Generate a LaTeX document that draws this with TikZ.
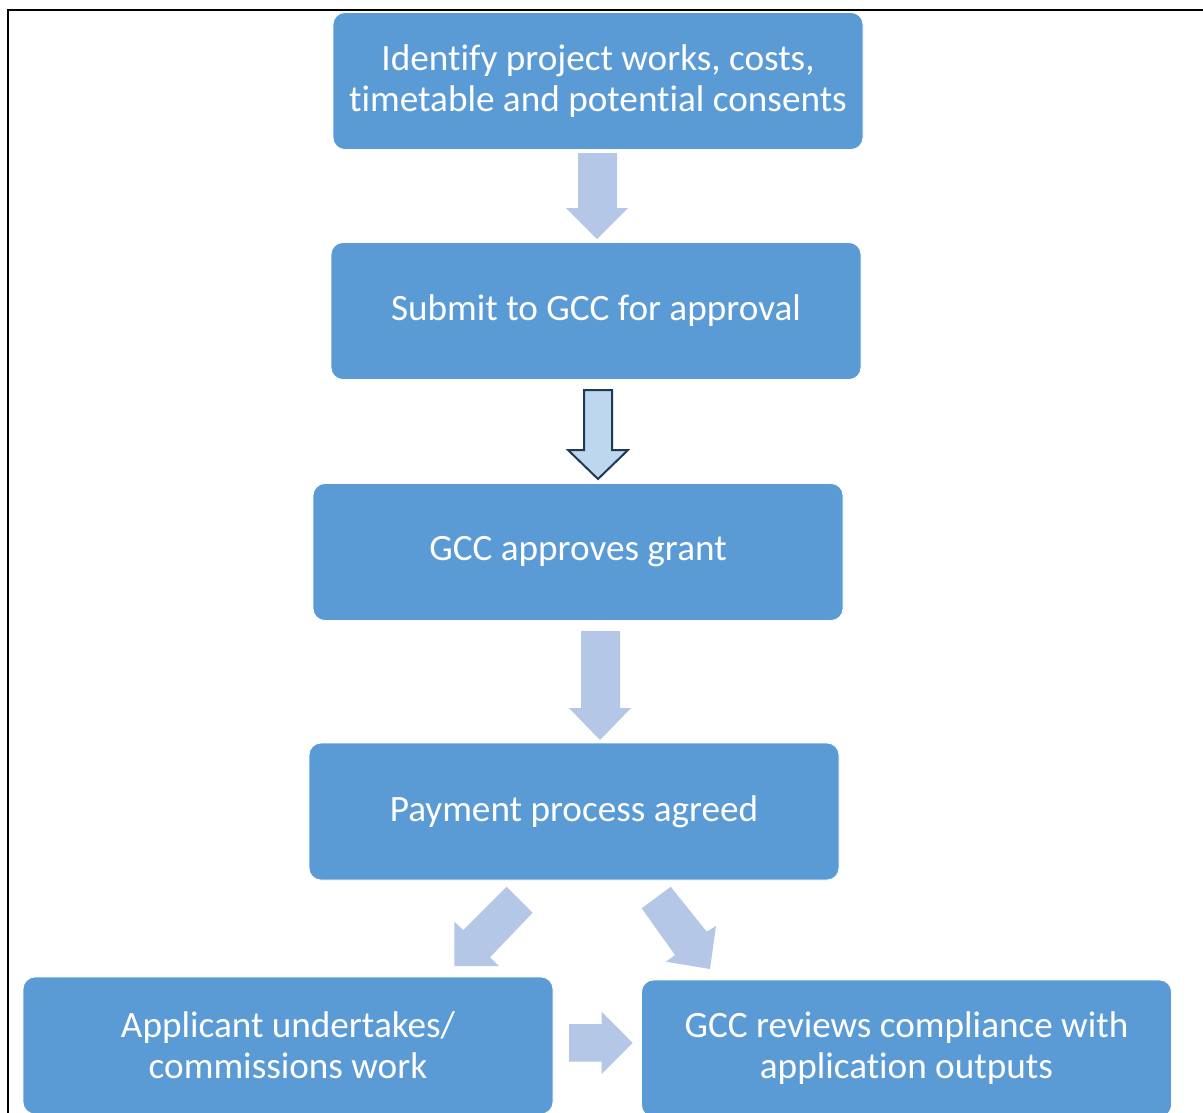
\documentclass[tikz,border=0pt]{standalone}
\usepackage{fontspec}
\setmainfont{Carlito}[Ligatures={NoCommon}]
\definecolor{boxblue}{HTML}{5B9BD5}
\definecolor{arrowlight}{HTML}{B4C7E7}
\definecolor{arrowfill}{HTML}{BDD7EE}
\definecolor{arrowline}{HTML}{203A55}
\begin{document}
\begin{tikzpicture}[x=1pt,y=-1pt,
  stepbox/.style={rectangle, rounded corners=12pt, fill=boxblue, draw=white, line width=0.8pt,
    minimum width=530pt, minimum height=137pt, text=white, align=center, inner sep=0pt,
    font=\fontsize{37.2}{41}\selectfont},
  blockarrow/.style={fill=arrowlight, draw=none}]
\useasboundingbox (0,0) rectangle (1203,1112);
\clip (0,0) rectangle (1203,1112);
\fill[white] (0,0) rectangle (1203,1112);
% frame
\draw[line width=2pt, black] (8,1113) -- (8,10) -- (1204,10);
% boxes
\node[stepbox] (b1) at (598,81) {Identify project works, costs,\\timetable and potential consents};
\node[stepbox] (b2) at (596,311) {Submit to GCC for approval};
\node[stepbox] (b3) at (578,552) {GCC approves grant};
\node[stepbox] (b4) at (574,811.5) {Payment process agreed};
\node[stepbox] (b5) at (288,1045.5) {Applicant undertakes/\\commissions work};
\node[stepbox] (b6) at (906.5,1048.5) {GCC reviews compliance with\\application outputs};
% arrow b1 -> b2
\fill[blockarrow] (578,153) -- (617,153) -- (617,208) -- (628,208) -- (597,239) -- (566,208) -- (578,208) -- cycle;
% arrow b2 -> b3 (outlined)
\filldraw[fill=arrowfill, draw=arrowline, line width=2pt, line join=miter]
  (584,390) -- (612,390) -- (612,450) -- (628,450) -- (598,479) -- (568,450) -- (584,450) -- cycle;
% arrow b3 -> b4
\fill[blockarrow] (581,631) -- (620,631) -- (620,708) -- (631,708) -- (600,740) -- (569,708) -- (581,708) -- cycle;
% arrow b4 -> b5
\fill[blockarrow] (506.7,886.7) -- (532.7,912.7) -- (490,957.3) -- (499,966) -- (454.3,966) -- (454.3,921.7) -- (463.3,930) -- cycle;
% arrow b4 -> b6
\fill[blockarrow] (641.7,908.3) -- (670.7,886.7) -- (706.7,931.7) -- (716,926) -- (710,969) -- (666,961.7) -- (675,955) -- cycle;
% arrow b5 -> b6
\fill[blockarrow] (569,1024) -- (601.7,1024) -- (601.7,1011.7) -- (632.7,1043) -- (601.7,1074) -- (601.7,1061.7) -- (569,1061.7) -- cycle;
\end{tikzpicture}
\end{document}
